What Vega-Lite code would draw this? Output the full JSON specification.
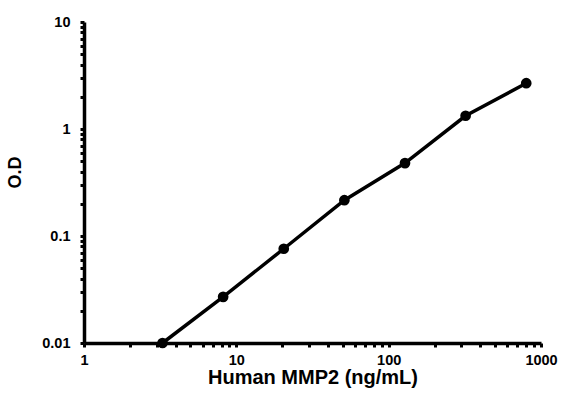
{
  "$schema": "https://vega.github.io/schema/vega-lite/v6.json",
  "width": 457,
  "height": 321,
  "autosize": "none",
  "padding": {"left": 84, "top": 22, "right": 38, "bottom": 55},
  "background": "white",
  "config": {
    "view": {"stroke": null},
    "font": "Liberation Sans"
  },
  "data": {
    "values": [
      {"conc": 3.2768, "od": 0.01},
      {"conc": 8.192, "od": 0.027},
      {"conc": 20.48, "od": 0.076},
      {"conc": 51.2, "od": 0.216},
      {"conc": 128, "od": 0.48},
      {"conc": 320, "od": 1.33},
      {"conc": 800, "od": 2.68}
    ]
  },
  "encoding": {
    "x": {
      "field": "conc",
      "type": "quantitative",
      "scale": {"type": "log", "domain": [1, 1000], "nice": false},
      "axis": {
        "title": "Human MMP2 (ng/mL)",
        "values": [1,2,3,4,5,6,7,8,9,10,20,30,40,50,60,70,80,90,100,200,300,400,500,600,700,800,900,1000],
        "labelExpr": "indexof(['1','10','100','1000'], format(datum.value, 'd')) >= 0 ? format(datum.value, 'd') : ''",
        "tickSize": 4,
        "tickWidth": 3,
        "tickColor": "black",
        "domainWidth": 3.5,
        "domainColor": "black",
        "grid": false,
        "labelFont": "Liberation Sans",
        "labelFontWeight": "bold",
        "labelFontSize": 14.5,
        "labelColor": "black",
        "titleFont": "Liberation Sans",
        "titleFontWeight": "bold",
        "titleFontSize": 20,
        "titleColor": "black",
        "labelPadding": 6,
        "titlePadding": 1,
        "labelFlush": false,
        "labelOverlap": false,
        "labelBound": false
      }
    },
    "y": {
      "field": "od",
      "type": "quantitative",
      "scale": {"type": "log", "domain": [0.01, 10], "nice": false},
      "axis": {
        "title": "O.D",
        "values": [0.01,0.02,0.03,0.04,0.05,0.06,0.07,0.08,0.09,0.1,0.2,0.3,0.4,0.5,0.6,0.7,0.8,0.9,1,2,3,4,5,6,7,8,9,10],
        "labelExpr": "datum.value == 0.01 ? '0.01' : datum.value == 0.1 ? '0.1' : datum.value == 1 ? '1' : datum.value == 10 ? '10' : ''",
        "tickSize": 4,
        "tickWidth": 3,
        "tickColor": "black",
        "domainWidth": 3.5,
        "domainColor": "black",
        "grid": false,
        "labelFont": "Liberation Sans",
        "labelFontWeight": "bold",
        "labelFontSize": 14.5,
        "labelColor": "black",
        "titleFont": "Liberation Sans",
        "titleFontWeight": "bold",
        "titleFontSize": 18,
        "titleColor": "black",
        "titleY": 150,
        "labelPadding": 10,
        "titlePadding": 17,
        "labelFlush": false,
        "labelOverlap": false
      }
    }
  },
  "layer": [
    {"mark": {"type": "line", "color": "black", "strokeWidth": 3.5}},
    {"mark": {"type": "point", "filled": true, "color": "black", "opacity": 1, "size": 115}}
  ]
}
